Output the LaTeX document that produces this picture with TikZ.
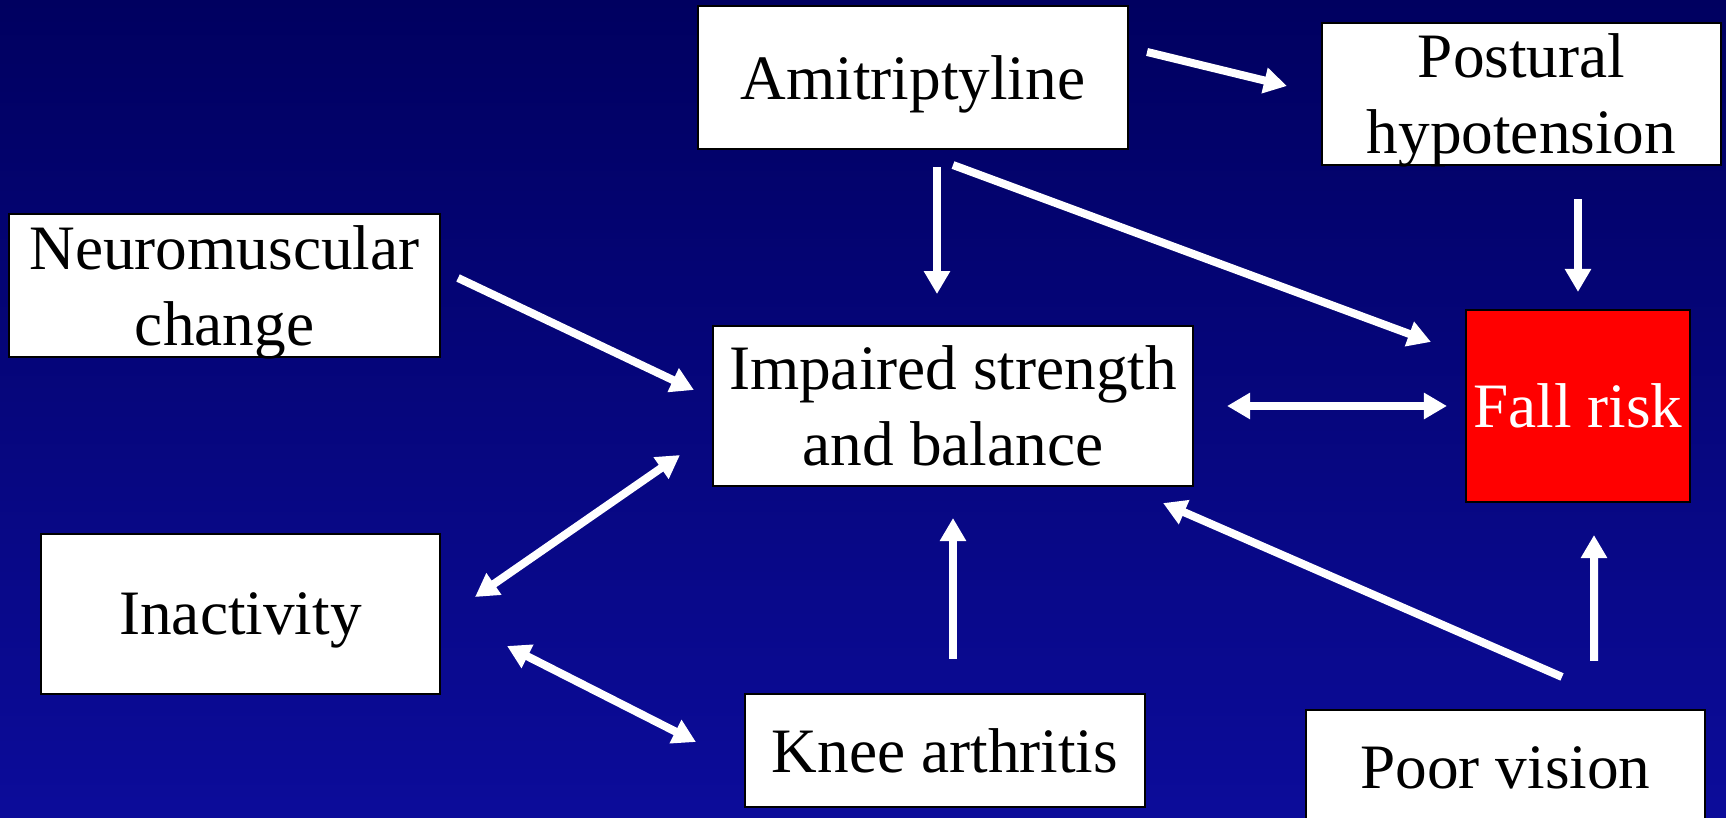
\documentclass[tikz,border=0pt]{standalone}
\usepackage{fontspec}
\setmainfont{Liberation Serif}
\usepackage{tikz}
\usetikzlibrary{arrows.meta,calc}
\definecolor{bgtop}{RGB}{0,0,96}
\definecolor{bgmid}{RGB}{4,8,118}
\definecolor{bgbot}{RGB}{12,12,154}
\definecolor{alarm}{HTML}{FF0000}
\tikzset{
  box/.style={draw=black, fill=white, line width=0.6pt, align=center, inner sep=0pt,
    text depth=0pt, font=\fontsize{18}{21.6}\selectfont},
  riskbox/.style={box, fill=alarm, text=white},
  arr/.style={-{Triangle[length=0.23cm, width=0.25cm]}, line width=0.08cm, white},
  biarr/.style={{Triangle[length=0.23cm, width=0.25cm]}-{Triangle[length=0.23cm, width=0.25cm]}, line width=0.08cm, white},
}

\begin{document}
\begin{tikzpicture}
  \clip (0,0) rectangle (17.26,-8.18);
  \shade[top color=bgtop, middle color=bgmid, bottom color=bgbot] (0,0) rectangle (17.26,-8.18);

  \node[box, minimum width=4.30cm, minimum height=1.43cm] (amit) at (9.13,-0.775) {Amitriptyline};
  \node[box, minimum width=3.99cm, minimum height=1.42cm] (post) at (15.215,-0.94) {Postural\\hypotension};
  \node[box, minimum width=4.31cm, minimum height=1.43cm] (neuro) at (2.245,-2.855) {Neuromuscular\\change};
  \node[box, minimum width=4.80cm, minimum height=1.60cm] (imp) at (9.53,-4.06) {Impaired strength\\and balance};
  \node[riskbox, minimum width=2.24cm, minimum height=1.92cm] (fall) at (15.78,-4.06) {Fall risk};
  \node[box, minimum width=3.99cm, minimum height=1.60cm] (inact) at (2.405,-6.14) {Inactivity};
  \node[box, minimum width=4.00cm, minimum height=1.13cm] (knee) at (9.45,-7.505) {Knee arthritis};
  \node[box, minimum width=3.99cm, minimum height=1.16cm] (vision) at (15.055,-7.68) {Poor vision};

  \draw[arr] ($(amit.east)+(0.18,0.255)$) -- ($(post.west)+(-0.34,0.08)$);
  \draw[arr] ($(amit.south)+(0.24,-0.17)$) -- ($(amit.south)+(0.24,-1.44)$);
  \draw[arr] ($(amit.south)+(0.40,-0.15)$) -- ($(fall.north west)+(-0.34,-0.33)$);
  \draw[arr] ($(post.south -| fall.north)+(0,-0.33)$) -- ($(fall.north)+(0,0.17)$);
  \draw[biarr] ($(imp.east)+(0.33,0)$) -- ($(fall.west)+(-0.18,0)$);
  \draw[arr] ($(neuro.east)+(0.17,0.075)$) -- ($(imp.west)+(-0.18,0.16)$);
  \draw[biarr] ($(inact.east)+(0.34,0.17)$) -- ($(imp.south west)+(-0.32,0.32)$);
  \draw[biarr] ($(inact.east)+(0.66,-0.32)$) -- ($(knee.west)+(-0.48,0.085)$);
  \draw[arr] ($(knee.north -| imp.south)+(0,0.34)$) -- ($(imp.south)+(0,-0.31)$);
  \draw[arr] ($(vision.north)+(0.565,0.32)$) -- ($(imp.south east)+(-0.31,-0.16)$);
  \draw[arr] ($(vision.north)+(0.885,0.48)$) -- ($(fall.south)+(0.16,-0.32)$);
\end{tikzpicture}
\end{document}
